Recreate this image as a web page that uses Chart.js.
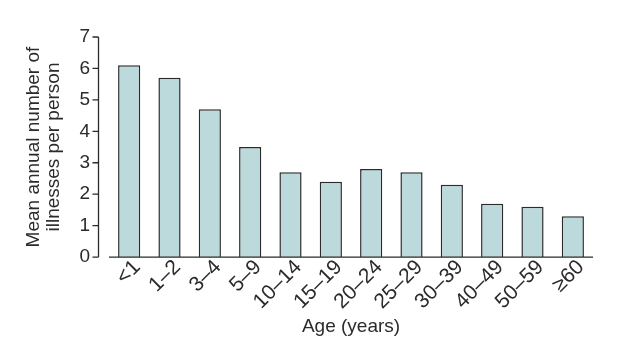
<!DOCTYPE html>
<html>
<head>
<meta charset="utf-8">
<script src="https://cdn.jsdelivr.net/npm/chart.js@4"></script>
<style>
  html, body { margin: 0; padding: 0; background: #fff; }
  #wrap { width: 640px; height: 360px; }
</style>
</head>
<body>
<div id="wrap"><canvas id="illnessChart"></canvas></div>
<script>
const ageGroups = ['<1', '1–2', '3–4', '5–9', '10–14', '15–19', '20–24', '25–29', '30–39', '40–49', '50–59', '≥60'];
const illnesses = [6.1, 5.7, 4.7, 3.5, 2.7, 2.4, 2.8, 2.7, 2.3, 1.7, 1.6, 1.3];
const yTicks = [0, 1, 2, 3, 4, 5, 6, 7];

const ink = '#2b2b2b';
const gap = 11; // y axis sits a little left of the bars

// draw the detached y axis line + ticks, and the x baseline
const axesPlugin = {
  id: 'axes',
  afterDraw(chart) {
    const { ctx, chartArea, scales } = chart;
    const y = scales.y;
    const ax = Math.round(chartArea.left - gap) + 0.5;
    ctx.save();
    ctx.strokeStyle = ink;
    ctx.lineWidth = 1.3;
    ctx.beginPath();
    ctx.moveTo(ax, y.getPixelForValue(7));
    ctx.lineTo(ax, y.getPixelForValue(0));
    ctx.stroke();
    ctx.beginPath();
    yTicks.forEach(v => {
      const py = y.getPixelForValue(v);
      ctx.moveTo(ax - 6, py);
      ctx.lineTo(ax, py);
    });
    const by = y.getPixelForValue(0);
    ctx.moveTo(chartArea.left, by);
    ctx.lineTo(chartArea.right, by);
    ctx.stroke();
    ctx.restore();
  }
};

new Chart(document.getElementById('illnessChart'), {
  type: 'bar',
  data: {
    labels: ageGroups,
    datasets: [{
      data: illnesses,
      backgroundColor: '#bcd9dc',
      borderColor: ink,
      borderWidth: 1.5,
      barPercentage: 0.55,
      categoryPercentage: 1
    }]
  },
  options: {
    responsive: true,
    maintainAspectRatio: false,
    animation: false,
    layout: { padding: { left: 20, right: 47, top: 37, bottom: 18 } },
    plugins: { legend: { display: false }, tooltip: { enabled: false } },
    scales: {
      x: {
        grid: { display: false },
        border: { display: false },
        ticks: {
          color: ink,
          font: { family: 'Liberation Sans', size: 21 },
          minRotation: 45,
          maxRotation: 45,
          labelOffset: 8,
          padding: -10
        },
        title: {
          display: true,
          text: 'Age (years)',
          color: ink,
          font: { family: 'Liberation Sans', size: 19 },
          padding: { top: 11 }
        }
      },
      y: {
        min: 0,
        max: 7,
        afterBuildTicks: s => { s.ticks = yTicks.map(v => ({ value: v })); },
        afterFit: s => { s.width = 89; },
        grid: { display: false, drawTicks: false },
        border: { display: false },
        ticks: {
          color: ink,
          font: { family: 'Liberation Sans', size: 19 },
          padding: 19
        },
        title: {
          display: true,
          text: ['Mean annual number of', 'illnesses per person'],
          color: ink,
          font: { family: 'Liberation Sans', size: 19, lineHeight: 1.05 },
          padding: { top: 4, bottom: 4 }
        }
      }
    }
  },
  plugins: [axesPlugin]
});
</script>
</body>
</html>
